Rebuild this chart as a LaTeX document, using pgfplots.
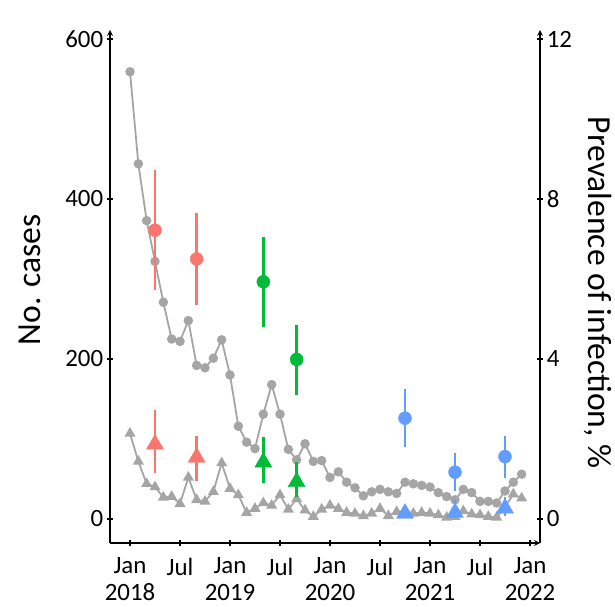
\documentclass[border=0pt]{standalone}
\usepackage{fontspec}
\setmainfont{Carlito}
\usepackage{pgfplots}
\pgfplotsset{compat=1.18}
\usepackage{pgfplotstable}
\usetikzlibrary{arrows.meta}

\definecolor{cgray}{HTML}{A5A5A5}
\definecolor{cred}{HTML}{F8766D}
\definecolor{cgreen}{HTML}{00BA38}
\definecolor{cblue}{HTML}{619CFF}

\pgfplotstableread{
m cases tri
0 559 107
1 444 72
2 373 44
3 322 40
4 271 27
5 225 28
6 222 19
7 248 52
8 192 24
9 189 22
10 201 34
11 224 70
12 180 38
13 116 30
14 96 8
15 88 13
16 131 20
17 168 17
18 131 30
19 87 12
20 74 25
21 94 11
22 72 3
23 73 12
24 52 17
25 59 13
26 46 8
27 39 7
28 29 4
29 34 7
30 37 13
31 34 4
32 32 9
33 46 10
34 44 7
35 42 8
36 40 7
37 33 5
38 28 2
39 24 3
40 37 10
41 33 6
42 22 5
43 22 3
44 20 2
45 35 15
46 46 31
47 56 26
}\graydata

\pgfplotstableread{
x y ep em
3 7.22 1.50 1.50
8 6.50 1.14 1.15
}\redcirc
\pgfplotstableread{
x y ep em
3 1.87 0.86 0.73
8 1.54 0.54 0.58
}\redtri
\pgfplotstableread{
x y ep em
16 5.93 1.13 1.14
20 3.99 0.86 0.89
}\greencirc
\pgfplotstableread{
x y ep em
16 1.42 0.62 0.53
20 0.93 0.50 0.37
}\greentri
\pgfplotstableread{
x y ep em
33 2.52 0.73 0.73
39 1.17 0.49 0.46
45 1.56 0.52 0.53
}\bluecirc
\pgfplotstableread{
x y ep em
33 0.14 0.12 0.12
39 0.16 0.31 0.14
45 0.27 0.29 0.20
}\bluetri

\pgfplotsset{
  common/.style={
    scale only axis, width=430bp, height=513bp,
    at={(0,0)}, anchor=south west,
    xmin=-2.4, xmax=49.2,
    tick align=outside, major tick length=6.5bp,
    every tick/.style={line width=1.6bp, black},
    axis line style={line width=1.6bp},
    every outer x axis line/.append style={-{Straight Barb[length=7bp,width=12bp,line width=1.5bp]}},
    every outer y axis line/.append style={-{Straight Barb[length=7bp,width=12bp,line width=1.5bp]}},
    /pgf/number format/assume math mode=true,
    tick label style={font=\fontsize{25}{26.5}\selectfont},
  },
  cerr/.style={only marks, color=#1, mark options={fill=#1, draw=none},
    error bars/y dir=both, error bars/y explicit, error bars/error mark=none,
    error bars/error bar style={line width=2.4bp, color=#1}},
}

\begin{document}
\begin{tikzpicture}
\begin{axis}[common,
  axis x line=bottom, axis y line=left,
  ymin=-30, ymax=611.25,
  ytick={0,200,400,600},
  xtick={0,6,...,48},
  xticklabels={{Jan\\2018},Jul,{Jan\\2019},Jul,{Jan\\2020},Jul,{Jan\\2021},Jul,{Jan\\2022}},
  xticklabel style={align=center, yshift=-8bp},
  ylabel={No. cases},
  ylabel style={font=\fontsize{33.7}{36}\selectfont, at={(axis description cs:-0.186,0.513)}, anchor=center},
]
\addplot[cgray, line width=1.8bp, mark=*, mark size=3.8bp, mark options={fill=cgray, draw=none}] table[x=m,y=cases]{\graydata};
\addplot[cgray, line width=1.8bp, mark=triangle*, mark size=4.6bp, mark options={fill=cgray, draw=none}] table[x=m,y=tri]{\graydata};
\end{axis}
\begin{axis}[common,
  axis x line=none, axis y line=right,
  ymin=-0.6, ymax=12.225,
  ytick={0,4,8,12},
  ylabel={Prevalence of infection, \%},
  ylabel style={font=\fontsize{33.7}{36}\selectfont, at={(axis description cs:1.135,0.488)}, anchor=center, rotate=180},
]
\addplot[cerr=cred, mark=*, mark size=6.5bp] table[x=x,y=y,y error plus=ep,y error minus=em]{\redcirc};
\addplot[cerr=cred, mark=triangle*, mark size=9.8bp] table[x=x,y=y,y error plus=ep,y error minus=em]{\redtri};
\addplot[cerr=cgreen, mark=*, mark size=6.5bp] table[x=x,y=y,y error plus=ep,y error minus=em]{\greencirc};
\addplot[cerr=cgreen, mark=triangle*, mark size=9.8bp] table[x=x,y=y,y error plus=ep,y error minus=em]{\greentri};
\addplot[cerr=cblue, mark=*, mark size=6.5bp] table[x=x,y=y,y error plus=ep,y error minus=em]{\bluecirc};
\addplot[cerr=cblue, mark=triangle*, mark size=9.8bp] table[x=x,y=y,y error plus=ep,y error minus=em]{\bluetri};
\end{axis}
\pgfresetboundingbox
\path[use as bounding box] (-110bp,-64bp) rectangle (505bp,543bp);
\end{tikzpicture}
\end{document}
